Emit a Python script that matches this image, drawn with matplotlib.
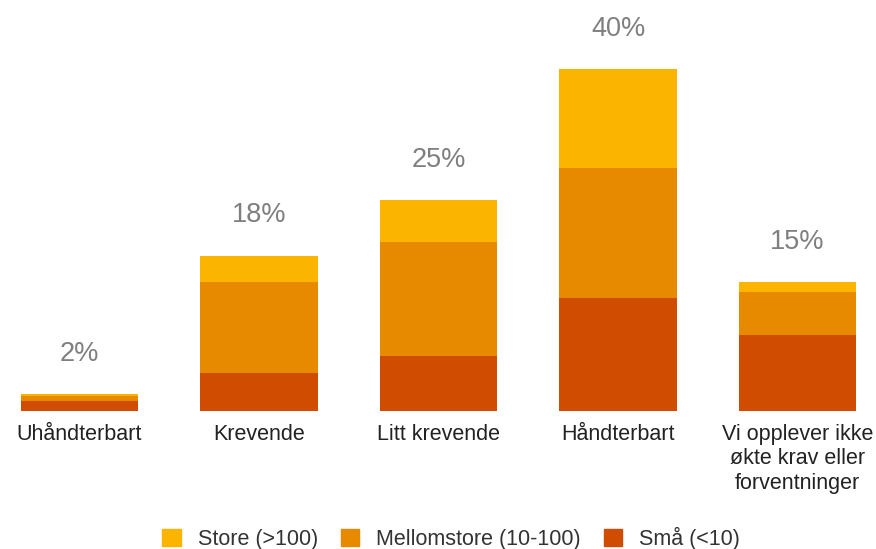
import numpy as np
import matplotlib
matplotlib.use("Agg")
from matplotlib import pyplot as plt
from matplotlib.patches import Patch

plt.rcParams['font.family'] = ['Liberation Sans', 'DejaVu Sans']

# data
kategorier = ["Uhåndterbart", "Krevende", "Litt krevende", "Håndterbart",
              "Vi opplever ikke\nøkte krav eller\nforventninger"]
sma = [1.2, 4.5, 6.4, 13.2, 8.9]          # Små (<10)
mellomstore = [0.6, 10.6, 13.4, 15.3, 5.0]  # Mellomstore (10-100)
store = [0.2, 3.1, 4.9, 11.5, 1.2]          # Store (>100)
totaler = ["2%", "18%", "25%", "40%", "15%"]

farge_store = "#FBB400"
farge_mellom = "#E88A00"
farge_sma = "#CF4C00"

fig = plt.figure(figsize=(8.76, 5.49), dpi=100)
ax = fig.add_axes([0, 0, 1, 1])

x = np.arange(len(kategorier))
bredde = 0.652
sma = np.array(sma); mellomstore = np.array(mellomstore); store = np.array(store)

ax.bar(x, sma, bredde, color=farge_sma, linewidth=0)
ax.bar(x, mellomstore, bredde, bottom=sma, color=farge_mellom, linewidth=0)
ax.bar(x, store, bredde, bottom=sma + mellomstore, color=farge_store, linewidth=0)

topp = sma + mellomstore + store
for i in range(len(x)):
    ax.text(x[i], topp[i] + 3.9, totaler[i], ha='center', va='baseline',
            fontsize=19.5, color='#7f7f7f')
    ax.text(x[i], -1.55, kategorier[i], ha='center', va='top',
            fontsize=15.5, color='#222222', linespacing=1.2)

ax.set_xlim(-79.5 / 179.5, (876 - 79.5) / 179.5)
ax.set_ylim(-138 / 8.54, (549 - 138) / 8.54)
ax.axis('off')

handles = [Patch(color=farge_store, label="Store (>100)"),
           Patch(color=farge_mellom, label="Mellomstore (10-100)"),
           Patch(color=farge_sma, label="Små (<10)")]
fig.legend(handles=handles, loc='center', bbox_to_anchor=(0.515, 0.02), ncol=3,
           frameon=False, fontsize=15.5, handlelength=0.85, handleheight=0.85,
           handletextpad=0.8, columnspacing=1.05, labelcolor='#333333')

plt.savefig("out.png", dpi=100)
